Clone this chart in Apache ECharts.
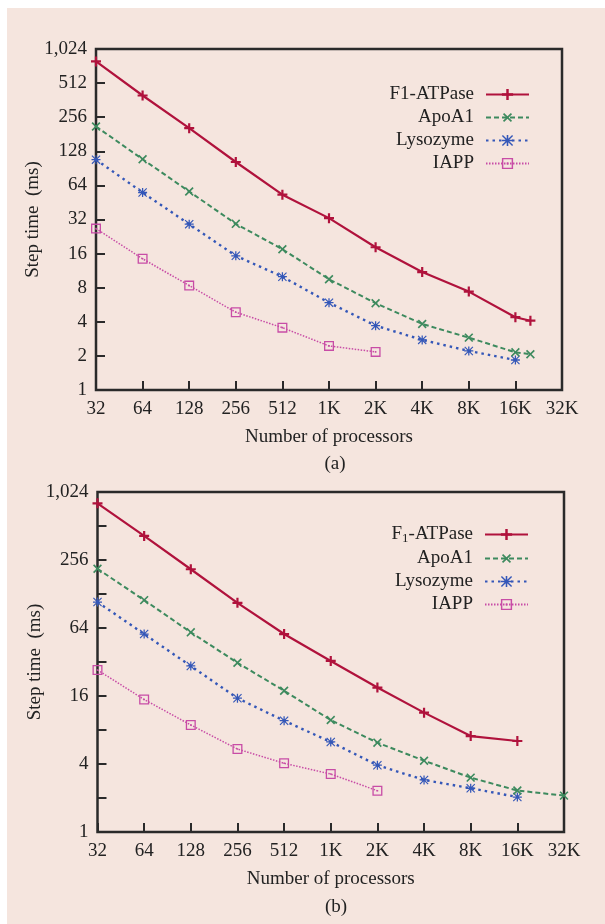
<!DOCTYPE html>
<html><head><meta charset="utf-8">
<script src="https://cdn.jsdelivr.net/npm/echarts@6/dist/echarts.min.js"></script>
<style>
html,body{margin:0;padding:0;background:#ffffff;}
#bg{position:absolute;left:7px;top:8px;width:598px;height:916px;background:#f5e5de;}
#chart{position:absolute;left:0;top:0;width:605px;height:924px;}
</style></head><body><div id="bg"></div><div id="chart"></div>
<script>
// ---- data ----
const seriesNames = ['F1-ATPase', 'ApoA1', 'Lysozyme', 'IAPP'];
const xTickValues = [32, 64, 128, 256, 512, 1024, 2048, 4096, 8192, 16384, 32768];
const xTickLabels = ['32', '64', '128', '256', '512', '1K', '2K', '4K', '8K', '16K', '32K'];
const yTickValues = [1, 2, 4, 8, 16, 32, 64, 128, 256, 512, 1024];
const yTickLabelsA = ['1', '2', '4', '8', '16', '32', '64', '128', '256', '512', '1,024'];
const yTickLabelsB = ['1', '', '4', '', '16', '', '64', '', '256', '', '1,024'];

// Panel (a)
const procsA_F1 = [32, 64, 128, 256, 512, 1024, 2048, 4096, 8192, 16384, 20480];
const timeA_F1 = [796, 398, 205, 103, 53, 32.9, 18.2, 11.0, 7.39, 4.39, 4.09];
const procsA_Apo = [32, 64, 128, 256, 512, 1024, 2048, 4096, 8192, 16384, 20480];
const timeA_Apo = [212, 109, 56.5, 29.3, 17.5, 9.5, 5.84, 3.83, 2.9, 2.15, 2.07];
const procsA_Lys = [32, 64, 128, 256, 512, 1024, 2048, 4096, 8192, 16384];
const timeA_Lys = [108, 55.4, 29.1, 15.3, 10.0, 5.9, 3.7, 2.77, 2.21, 1.84];
const procsA_IAPP = [32, 64, 128, 256, 512, 1024, 2048];
const timeA_IAPP = [26.6, 14.4, 8.35, 4.86, 3.55, 2.45, 2.17];

// Panel (b)
const procsB_F1 = [32, 64, 128, 256, 512, 1024, 2048, 4096, 8192, 16384];
const timeB_F1 = [813, 418, 212, 107, 56.6, 32.7, 19.0, 11.4, 7.07, 6.39];
const procsB_Apo = [32, 64, 128, 256, 512, 1024, 2048, 4096, 8192, 16384, 32768];
const timeB_Apo = [214, 113, 58.6, 31.5, 17.8, 9.8, 6.18, 4.28, 3.03, 2.33, 2.1];
const procsB_Lys = [32, 64, 128, 256, 512, 1024, 2048, 4096, 8192, 16384];
const timeB_Lys = [108.6, 56.6, 29.5, 15.3, 9.67, 6.27, 3.9, 2.89, 2.44, 2.04];
const procsB_IAPP = [32, 64, 128, 256, 512, 1024, 2048];
const timeB_IAPP = [27.2, 14.9, 8.86, 5.43, 4.06, 3.26, 2.32];

// ---- styles ----
const FONT = 'Liberation Serif';
const TXT = '#222222';
const BOX = '#2a2a2a';
const colors = ['#b0123c', '#3d8a5e', '#3457b8', '#c84ca6'];
const symPlus = 'path://M3.9,0H6.1V3.9H10V6.1H6.1V10H3.9V6.1H0V3.9H3.9Z';
const symX = 'path://M4.25,0H5.75V4.25H10V5.75H5.75V10H4.25V5.75H0V4.25H4.25Z';
const symStar = 'path://M4.3,0H5.7V10H4.3Z M0,4.3H10V5.7H0Z M0,0.9L0.9,0L10,9.1L9.1,10Z M9.1,0L10,0.9L0.9,10L0,9.1Z';
const symSquare = 'path://M0,0H10V10H0Z M1.3,1.3V8.7H8.7V1.3Z M4.2,4.2H5.8V5.8H4.2Z';
const symbols = [symPlus, symX, symStar, symSquare];
const symbolSizes = [10, 11, 9, 10];
const symbolRot = [0, 45, 0, 0];
const lineTypes = ['solid', [5, 3], [2.5, 4], [1.5, 1.5]];
const lineWidths = [2.2, 2, 2.4, 1.5];

function pairs(xs, ys) { return xs.map((x, i) => [x, ys[i]]); }

function xLabel(v) {
  const i = xTickValues.findIndex(t => Math.abs(t - v) < 0.5);
  return i >= 0 ? xTickLabels[i] : '';
}
function yLabel(labels) {
  return function (v) {
    const i = yTickValues.findIndex(t => Math.abs(t - v) < 0.01 * t);
    return i >= 0 ? labels[i] : '';
  };
}

function makeAxes(gridIndex, yLabels) {
  const x = {
    type: 'log', logBase: 2, gridIndex: gridIndex,
    min: 32, max: 32768, interval: 1,
    axisLine: { show: false },
    axisTick: { show: true, inside: true, length: 9, lineStyle: { color: BOX, width: 2 } },
    axisLabel: { formatter: xLabel, fontFamily: FONT, fontSize: 19, color: TXT, margin: 10,
      showMinLabel: true, showMaxLabel: true, hideOverlap: false, interval: 0 },
    splitLine: { show: false }, minorTick: { show: false },
    name: 'Number of processors', nameLocation: 'middle', nameGap: 38, nameMoveOverlap: false,
    nameTextStyle: { fontFamily: FONT, fontSize: 19, color: TXT }
  };
  const y = {
    type: 'log', logBase: 2, gridIndex: gridIndex,
    min: 1, max: 1024, interval: 1,
    axisLine: { show: false },
    axisTick: { show: true, inside: true, length: 9, lineStyle: { color: BOX, width: 2 } },
    axisLabel: { formatter: yLabel(yLabels), fontFamily: FONT, fontSize: 19, color: TXT, margin: 9,
      showMinLabel: true, showMaxLabel: true, hideOverlap: false, interval: 0 },
    splitLine: { show: false }, minorTick: { show: false },
    name: 'Step time  (ms)', nameLocation: 'middle', nameGap: 53, nameMoveOverlap: false,
    nameTextStyle: { fontFamily: FONT, fontSize: 19, color: TXT }
  };
  return [x, y];
}

function makeSeries(gridIndex, data) {
  return data.map((d, k) => ({
    name: seriesNames[k], type: 'line',
    xAxisIndex: gridIndex, yAxisIndex: gridIndex,
    data: d, symbol: symbols[k], symbolSize: symbolSizes[k], symbolRotate: symbolRot[k],
    showAllSymbol: true, silent: true, animation: false,
    lineStyle: { color: colors[k], width: lineWidths[k], type: lineTypes[k] },
    itemStyle: { color: colors[k] },
    z: 10 - k
  }));
}

const axA = makeAxes(0, yTickLabelsA);
const axB = makeAxes(1, yTickLabelsB);

const seriesA = makeSeries(0, [
  pairs(procsA_F1, timeA_F1), pairs(procsA_Apo, timeA_Apo),
  pairs(procsA_Lys, timeA_Lys), pairs(procsA_IAPP, timeA_IAPP)
]);
const seriesB = makeSeries(1, [
  pairs(procsB_F1, timeB_F1), pairs(procsB_Apo, timeB_Apo),
  pairs(procsB_Lys, timeB_Lys), pairs(procsB_IAPP, timeB_IAPP)
]);

const legendBase = {
  orient: 'vertical', align: 'right', itemWidth: 43, itemHeight: 14, itemGap: 4,
  selectedMode: false, data: seriesNames,
  textStyle: { fontFamily: FONT, fontSize: 19, color: TXT, padding: [0, 7, 0, 0] }
};

const option = {
  animation: false,
  backgroundColor: 'transparent',
  grid: [
    { left: 96, top: 49, width: 466, height: 341, containLabel: false, show: true,
      borderColor: BOX, borderWidth: 2.5, backgroundColor: 'transparent' },
    { left: 97.5, top: 492, width: 466.5, height: 340, containLabel: false, show: true,
      borderColor: BOX, borderWidth: 2.5, backgroundColor: 'transparent' }
  ],
  xAxis: [axA[0], axB[0]],
  yAxis: [axA[1], axB[1]],
  title: [
    { text: '(a)', left: 330, top: 450, textAlign: 'center',
      textStyle: { fontFamily: FONT, fontSize: 19, fontWeight: 'normal', color: TXT } },
    { text: '(b)', left: 331, top: 893, textAlign: 'center',
      textStyle: { fontFamily: FONT, fontSize: 19, fontWeight: 'normal', color: TXT } }
  ],
  legend: [
    Object.assign({}, legendBase, { right: 70, top: 80 }),
    Object.assign({}, legendBase, { right: 71, top: 520,
      formatter: function (n) { return n === 'F1-ATPase' ? '{m|F}{s|1}{m|-ATPase}' : n; },
      textStyle: { fontFamily: FONT, fontSize: 19, color: TXT, padding: [0, 7, 0, 0],
        rich: {
          m: { fontFamily: FONT, fontSize: 19, color: TXT, lineHeight: 21 },
          s: { fontFamily: FONT, fontSize: 13, color: TXT, lineHeight: 13, verticalAlign: 'bottom' }
        } } })
  ],
  series: seriesA.concat(seriesB)
};

const chart = echarts.init(document.getElementById('chart'), null, { renderer: 'canvas' });
chart.setOption(option);
</script></body></html>
